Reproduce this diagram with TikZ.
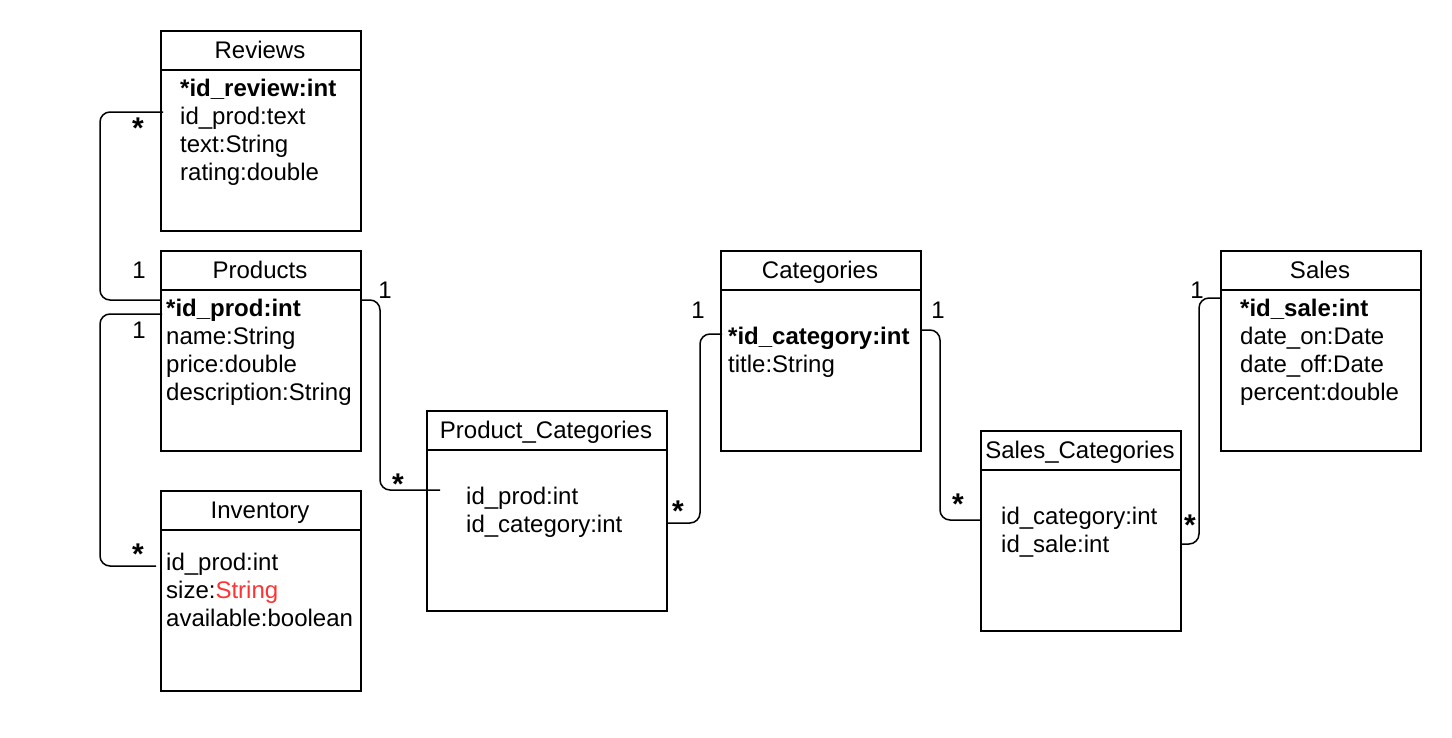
\documentclass[tikz,border=0pt]{standalone}
\usepackage{fontspec}
\setmainfont{Liberation Sans}
\definecolor{redtxt}{RGB}{255,51,51}
\begin{document}
\begin{tikzpicture}[x=1pt,y=-1pt,
  box/.style={draw,line width=1.5pt,minimum width=200pt,minimum height=200pt,inner sep=0pt,anchor=north west},
  ttl/.style={font=\fontsize{24}{28}\selectfont,inner sep=0pt,anchor=base},
  attr/.style={font=\fontsize{24}{28}\selectfont,inner sep=0pt,anchor=base west},
  lbl/.style={font=\fontsize{24}{28}\selectfont,inner sep=0pt},
  star/.style={font=\fontsize{30}{34}\selectfont\bfseries,inner sep=0pt,anchor=north},
  conn/.style={line width=1.5pt,rounded corners=10pt},
  hdr/.style={line width=1.5pt}]
\useasboundingbox (0,0) rectangle (1452,737);
% Reviews
\node[box] (reviews) at (160,30) {};
\draw[hdr] (160,70) -- (360,70);
\node[ttl] (reviewsT) at (260,58.5) {Reviews};
\node[attr] (rv1) at (180,96.5) {\textbf{*id\_review:int}};
\node[attr] (rv2) at (180,124.5) {id\_prod:text};
\node[attr] (rv3) at (180,152.5) {text:String};
\node[attr] (rv4) at (180,180.5) {rating:double};
% Products
\node[box] (products) at (160,250) {};
\draw[hdr] (160,290) -- (360,290);
\node[ttl] (productsT) at (260,278.5) {Products};
\node[attr] (pr1) at (166,316.5) {\textbf{*id\_prod:int}};
\node[attr] (pr2) at (166,344.5) {name:String};
\node[attr] (pr3) at (166,372.5) {price:double};
\node[attr] (pr4) at (166,400.5) {description:String};
% Inventory
\node[box] (inventory) at (160,490) {};
\draw[hdr] (160,530) -- (360,530);
\node[ttl] (inventoryT) at (260,518.5) {Inventory};
\node[attr] (in1) at (166,570.5) {id\_prod:int};
\node[attr] (in2) at (166,598.5) {size:\textcolor{redtxt}{String}};
\node[attr] (in3) at (166,626.5) {available:boolean};
% Product_Categories
\node[box,minimum width=240pt] (prodcat) at (426,410) {};
\draw[hdr] (426,450) -- (666,450);
\node[ttl] (prodcatT) at (546,438.5) {Product\_Categories};
\node[attr] (pc1) at (466,504.5) {id\_prod:int};
\node[attr] (pc2) at (466,532.5) {id\_category:int};
% Categories
\node[box] (categories) at (720,250) {};
\draw[hdr] (720,290) -- (920,290);
\node[ttl] (categoriesT) at (820,278.5) {Categories};
\node[attr] (ca1) at (728,344.5) {\textbf{*id\_category:int}};
\node[attr] (ca2) at (728,372.5) {title:String};
% Sales_Categories
\node[box] (salescat) at (980,430) {};
\draw[hdr] (980,470) -- (1180,470);
\node[ttl] (salescatT) at (1080,458.5) {Sales\_Categories};
\node[attr] (sc1) at (1001,524.5) {id\_category:int};
\node[attr] (sc2) at (1001,552.5) {id\_sale:int};
% Sales
\node[box] (sales) at (1220,250) {};
\draw[hdr] (1220,290) -- (1420,290);
\node[ttl] (salesT) at (1320,278.5) {Sales};
\node[attr] (sa1) at (1240,316.5) {\textbf{*id\_sale:int}};
\node[attr] (sa2) at (1240,344.5) {date\_on:Date};
\node[attr] (sa3) at (1240,372.5) {date\_off:Date};
\node[attr] (sa4) at (1240,400.5) {percent:double};
% connector end points
\coordinate (c1a) at (163,112);
\coordinate (c1b) at (160,300);
\coordinate (c2a) at (162,314);
\coordinate (c2b) at (156,566);
\coordinate (c3a) at (360,300);
\coordinate (c3b) at (440,490);
\coordinate (c4a) at (666,523);
\coordinate (c4b) at (722,334);
\coordinate (c5a) at (920,330);
\coordinate (c5b) at (980,520);
\coordinate (c6a) at (1180,544);
\coordinate (c6b) at (1220,298);
% connectors
\draw[conn] (c1a) -- (100,112) -- (100,300) -- (c1b);
\draw[conn] (c2a) -- (100,314) -- (100,566) -- (c2b);
\draw[conn] (c3a) -- (380,300) -- (380,490) -- (c3b);
\draw[conn] (c4a) -- (700,523) -- (700,334) -- (c4b);
\draw[conn] (c5a) -- (940,330) -- (940,520) -- (c5b);
\draw[conn] (c6a) -- (1199,544) -- (1199,298) -- (c6b);
% multiplicities
\node[star] (m1a) at (138,118) {*};
\node[lbl] (m1b) at (139,270) {1};
\node[lbl] (m2a) at (139,330) {1};
\node[star] (m2b) at (138,544) {*};
\node[lbl] (m3a) at (385,290) {1};
\node[star] (m3b) at (398,474) {*};
\node[star] (m4a) at (678,501) {*};
\node[lbl] (m4b) at (698,310) {1};
\node[lbl] (m5a) at (938,310) {1};
\node[star] (m5b) at (958,494) {*};
\node[star] (m6a) at (1190,515) {*};
\node[lbl] (m6b) at (1197,290) {1};
\end{tikzpicture}
\end{document}
